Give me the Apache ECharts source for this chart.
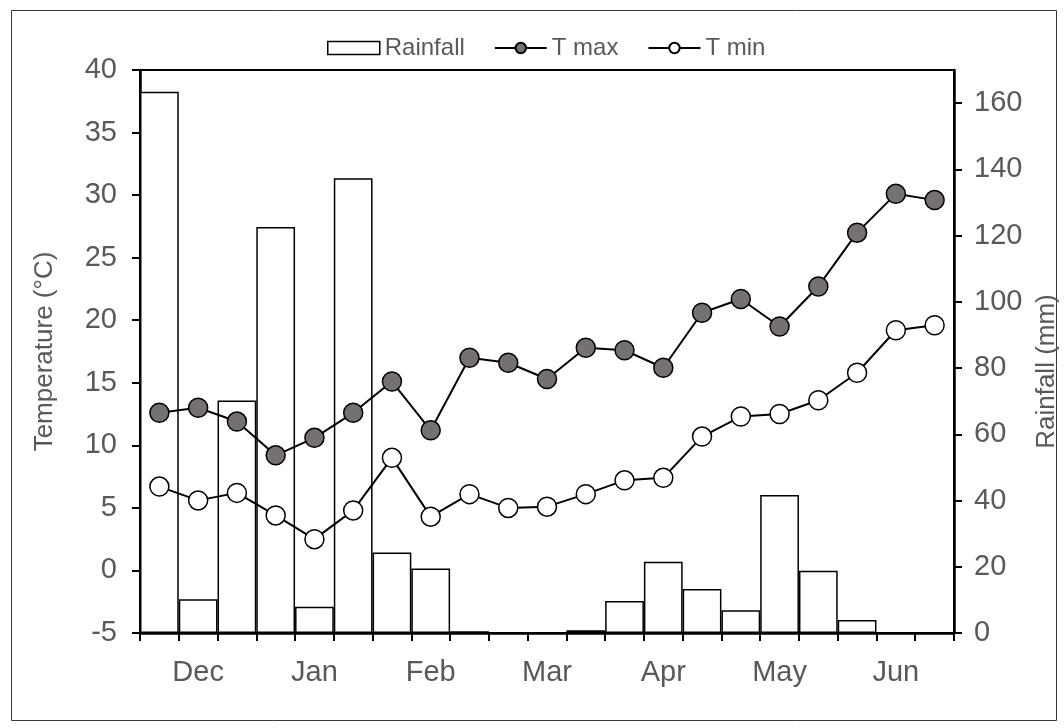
<!DOCTYPE html>
<html>
<head>
<meta charset="utf-8">
<script src="https://cdn.jsdelivr.net/npm/echarts@6/dist/echarts.min.js"></script>
<style>
html,body{margin:0;padding:0;background:#fff;}
#chart{width:1064px;height:728px;}
</style>
</head>
<body>
<div id="chart"></div>
<script>
const categories = ['', 'Dec', '', '', 'Jan', '', '', 'Feb', '', '', 'Mar', '', '', 'Apr', '', '', 'May', '', '', 'Jun', ''];
const rainfall = [163.4, 10.2, 70.2, 122.6, 7.9, 137.3, 24.3, 19.5, 0.5, 0, 0, 0.8, 9.7, 21.5, 13.3, 6.9, 41.7, 18.8, 3.9, 0, 0];
const tMax = [12.6, 13.0, 11.9, 9.2, 10.6, 12.6, 15.1, 11.2, 17.0, 16.6, 15.3, 17.8, 17.6, 16.2, 20.6, 21.7, 19.5, 22.7, 27.0, 30.1, 29.6];
const tMin = [6.7, 5.6, 6.2, 4.4, 2.5, 4.8, 9.0, 4.3, 6.1, 5.0, 5.1, 6.1, 7.2, 7.4, 10.7, 12.3, 12.5, 13.6, 15.8, 19.2, 19.6];
const rainTicks = [0, 20, 40, 60, 80, 100, 120, 140, 160];

const FONT = '"Liberation Sans", Arial, sans-serif';
const GREY = '#595959';

const chart = echarts.init(document.getElementById('chart'), null, {renderer: 'canvas'});
chart.setOption({
  animation: false,
  backgroundColor: '#fff',
  textStyle: {fontFamily: FONT},
  graphic: [{
    type: 'rect', left: 9, top: 8, silent: true,
    shape: {width: 1045, height: 710},
    style: {fill: 'none', stroke: '#3a3a3a', lineWidth: 1}
  }],
  legend: {
    left: 327, top: 36, padding: 0,
    itemWidth: 52, itemHeight: 13, itemGap: 29,
    textStyle: {color: GREY, fontSize: 24, fontFamily: FONT},
    data: [
      {name: 'Rainfall', icon: 'rect', itemStyle: {color: '#fff', borderColor: '#000', borderWidth: 1.5}},
      {name: 'T max'},
      {name: 'T min'}
    ]
  },
  grid: {left: 140, right: 110, top: 70, bottom: 95, containLabel: false, outerBoundsMode: 'none',
         show: true, borderColor: '#000', borderWidth: 2, backgroundColor: 'transparent'},
  xAxis: {
    type: 'category', data: categories, boundaryGap: true,
    axisLine: {onZero: false, lineStyle: {color: '#000', width: 2.5}},
    axisTick: {show: true, interval: 0, length: 8, lineStyle: {color: '#000', width: 2}},
    axisLabel: {interval: 0, color: GREY, fontSize: 29, margin: 25, fontFamily: FONT},
    splitLine: {show: false}
  },
  yAxis: [{
    type: 'value', min: -5, max: 40, interval: 5, position: 'left',
    name: 'Temperature (°C)', nameLocation: 'middle', nameGap: 82, nameRotate: 90,
    nameTextStyle: {color: GREY, fontSize: 26, fontFamily: FONT},
    axisLine: {show: true, onZero: false, lineStyle: {color: '#000', width: 2.5}},
    axisTick: {show: true, length: 8, lineStyle: {color: '#000', width: 2}},
    axisLabel: {color: GREY, fontSize: 29, margin: 23, fontFamily: FONT},
    splitLine: {show: false}
  }, {
    type: 'value', min: 0, max: 170, interval: 20, position: 'right',
    name: 'Rainfall (mm)', nameLocation: 'middle', nameGap: 80, nameRotate: 90,
    nameTextStyle: {color: GREY, fontSize: 26, fontFamily: FONT, padding: [0, 40, 0, 0]},
    axisLine: {show: true, onZero: false, lineStyle: {color: '#000', width: 2.5}},
    axisTick: {show: true, length: 8, customValues: rainTicks, lineStyle: {color: '#000', width: 2}},
    axisLabel: {color: GREY, fontSize: 29, margin: 20, customValues: rainTicks, fontFamily: FONT},
    splitLine: {show: false}
  }],
  series: [{
    name: 'Rainfall', type: 'bar', yAxisIndex: 1, data: rainfall,
    barCategoryGap: '0%', z: 1,
    itemStyle: {color: '#fff', borderColor: '#000', borderWidth: 1.5}
  }, {
    name: 'T max', type: 'line', yAxisIndex: 0, data: tMax, z: 5,
    symbol: 'circle', symbolSize: 19,
    lineStyle: {color: '#000', width: 2},
    itemStyle: {color: '#767171', borderColor: '#000', borderWidth: 1.5}
  }, {
    name: 'T min', type: 'line', yAxisIndex: 0, data: tMin, z: 5,
    symbol: 'circle', symbolSize: 19,
    lineStyle: {color: '#000', width: 2},
    itemStyle: {color: '#fff', borderColor: '#000', borderWidth: 1.5}
  }]
});
</script>
</body>
</html>
